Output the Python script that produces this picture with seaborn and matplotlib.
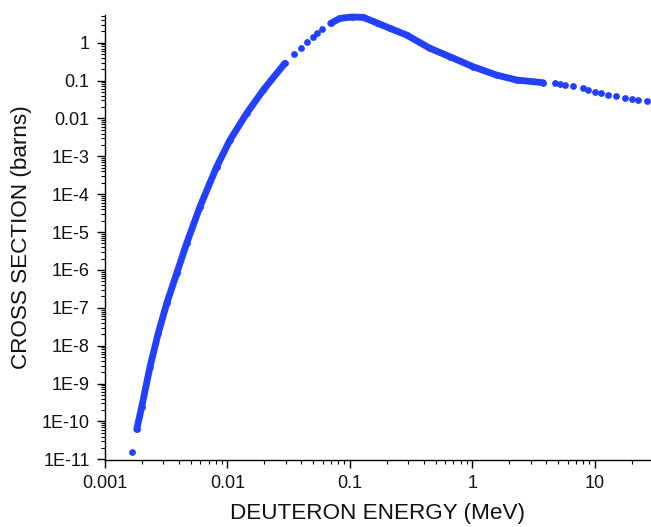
import matplotlib
matplotlib.use("Agg")
import matplotlib.pyplot as plt
import matplotlib.ticker as mticker
import numpy as np
import pandas as pd
import seaborn as sns

# ---- data (energy in MeV, cross section in barns) ----
# low-energy branch (dense points, drawn as a continuous band)
energy_low = [1.815e-3, 1.995e-3, 2.33e-3, 2.72e-3, 3.19e-3, 3.85e-3, 4.64e-3,
              5.96e-3, 8.16e-3, 0.01048, 0.01435, 0.0196, 0.0294]
sigma_low = [6.2e-11, 2.44e-10, 2.78e-9, 2.12e-8, 1.31e-7, 8.15e-7, 5.05e-6,
             4.67e-5, 5.3e-4, 2.70e-3, 0.01367, 0.0564, 0.286]

# resonance branch (dense points, drawn as a continuous band)
energy_peak = [0.0696, 0.0829, 0.104, 0.128, 0.165, 0.212, 0.290, 0.450,
               0.655, 1.015, 1.575, 2.30, 3.79]
sigma_peak = [3.25, 4.41, 4.77, 4.69, 3.37, 2.40, 1.60, 0.711,
              0.427, 0.232, 0.140, 0.1035, 0.0879]

# sparse individual points
energy_dots = [1.66e-3, 0.0349, 0.0396, 0.0448, 0.0496, 0.0541, 0.0594,
               4.71, 5.18, 5.69, 6.65, 7.94, 8.82, 10.0, 11.3, 12.8, 15.0,
               17.6, 19.9, 22.5, 26.4]
sigma_dots = [1.55e-11, 0.494, 0.738, 1.06, 1.44, 1.77, 2.26,
              0.0847, 0.0811, 0.0764, 0.0719, 0.0625, 0.0564, 0.0508, 0.0461,
              0.0416, 0.0391, 0.0353, 0.0326, 0.0307, 0.0289]

x_ticks = [0.001, 0.01, 0.1, 1, 10]
x_tick_labels = ["0.001", "0.01", "0.1", "1", "10"]
y_ticks = [1e-11, 1e-10, 1e-9, 1e-8, 1e-7, 1e-6, 1e-5, 1e-4, 1e-3, 0.01, 0.1, 1]
y_tick_labels = ["1E-11", "1E-10", "1E-9", "1E-8", "1E-7", "1E-6", "1E-5",
                 "1E-4", "1E-3", "0.01", "0.1", "1"]

# ---- styling ----
sns.set_theme(style="ticks")
plt.rcParams["font.family"] = ["Liberation Sans", "DejaVu Sans"]

color = "#2340ff"
band_lw = 4.9

fig = plt.figure(figsize=(6.51, 5.27), dpi=100)
ax = fig.add_axes([105 / 651, 67 / 527, 546 / 651, 445 / 527])

df_low = pd.DataFrame({"E": energy_low, "S": sigma_low})
df_peak = pd.DataFrame({"E": energy_peak, "S": sigma_peak})
df_all = pd.DataFrame({"E": energy_low + energy_peak + energy_dots,
                       "S": sigma_low + sigma_peak + sigma_dots})

for d in (df_low, df_peak):
    sns.lineplot(data=d, x="E", y="S", ax=ax, color=color, linewidth=band_lw,
                 sort=False, estimator=None, solid_capstyle="round",
                 solid_joinstyle="round", clip_on=False)
sns.scatterplot(data=df_all, x="E", y="S", ax=ax, color=color, s=band_lw ** 2,
                linewidth=0, clip_on=False, zorder=3)

ax.set_xscale("log")
ax.set_yscale("log")
ax.set_xlim(1e-3, 28.7)
ax.set_ylim(9.6e-12, 5.4)

ax.xaxis.set_major_locator(mticker.FixedLocator(x_ticks))
ax.xaxis.set_major_formatter(mticker.FixedFormatter(x_tick_labels))
ax.yaxis.set_major_locator(mticker.FixedLocator(y_ticks))
ax.yaxis.set_major_formatter(mticker.FixedFormatter(y_tick_labels))
ax.xaxis.set_minor_locator(mticker.LogLocator(base=10, subs=np.arange(2, 10), numticks=50))
ax.yaxis.set_minor_locator(mticker.LogLocator(base=10, subs=np.arange(2, 10), numticks=50))
ax.xaxis.set_minor_formatter(mticker.NullFormatter())
ax.yaxis.set_minor_formatter(mticker.NullFormatter())

sns.despine(ax=ax)
for sp in ("left", "bottom"):
    ax.spines[sp].set_linewidth(1.0)
    ax.spines[sp].set_color("black")

ax.tick_params(axis="both", which="major", direction="out", length=6, width=1.0,
               color="black", labelsize=13, labelcolor="#111111", pad=5)
ax.tick_params(axis="both", which="minor", direction="out", length=3, width=0.8,
               color="black")

ax.set_xlabel("DEUTERON ENERGY (MeV)", fontsize=16.2, color="#111111")
ax.set_ylabel("CROSS SECTION (barns)", fontsize=16.2, color="#111111")
ax.xaxis.set_label_coords(0.5, -0.097)
ax.yaxis.set_label_coords(-0.133, 0.5)

fig.savefig("out.png", dpi=100)
